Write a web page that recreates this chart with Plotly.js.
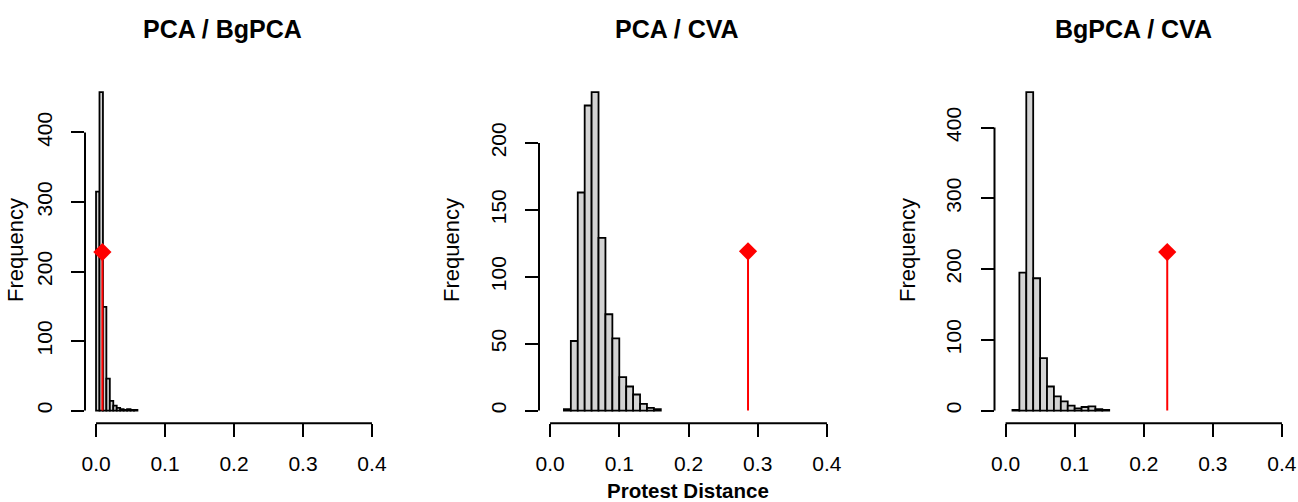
<!DOCTYPE html>
<html>
<head>
<meta charset="utf-8">
<script src="https://cdn.plot.ly/plotly-3.0.1.min.js"></script>
<style>
html,body{margin:0;padding:0;background:#fff;}
#chart{width:1298px;height:502px;}
</style>
</head>
<body>
<div id="chart"></div>
<script>
// ---- data ----
const panelTitles = ["PCA / BgPCA", "PCA / CVA", "BgPCA / CVA"];
const xAxisLabel = "Protest Distance";
const yAxisLabel = "Frequency";
const xTicks = [0, 0.1, 0.2, 0.3, 0.4];

const breaks1 = [0, 0.005, 0.01, 0.015, 0.02, 0.025, 0.03, 0.035, 0.04, 0.045, 0.05, 0.055, 0.06];
const counts1 = [315, 458, 149, 46, 14, 7, 4, 2, 1, 2, 1, 1];
const yTicks1 = [0, 100, 200, 300, 400];
const observed1 = 0.0092;
const observedHeight1 = 228;

const breaks2 = [0.02, 0.03, 0.04, 0.05, 0.06, 0.07, 0.08, 0.09, 0.10, 0.11, 0.12, 0.13, 0.14, 0.15, 0.16];
const counts2 = [1, 52, 163, 228, 238, 129, 72, 54, 25, 18, 12, 5, 2, 1];
const yTicks2 = [0, 50, 100, 150, 200];
const observed2 = 0.286;
const observedHeight2 = 119;

const breaks3 = [0.01, 0.02, 0.03, 0.04, 0.05, 0.06, 0.07, 0.08, 0.09, 0.10, 0.11, 0.12, 0.13, 0.14, 0.15];
const counts3 = [1, 195, 450, 187, 74, 34, 20, 13, 7, 3, 5, 6, 2, 1];
const yTicks3 = [0, 100, 200, 300, 400];
const observed3 = 0.234;
const observedHeight3 = 224;

// ---- build ----
const panels = [
  {breaks: breaks1, counts: counts1, yTicks: yTicks1, obs: observed1, obsH: observedHeight1},
  {breaks: breaks2, counts: counts2, yTicks: yTicks2, obs: observed2, obsH: observedHeight2},
  {breaks: breaks3, counts: counts3, yTicks: yTicks3, obs: observed3, obsH: observedHeight3}
];

const W = 1298, H = 502;
const FONT = "Liberation Sans, Arial, Helvetica, sans-serif";
const xDomPx = [[85, 383], [539, 838], [994.5, 1293]];
const yTopPx = 79.4, yBotPx = 423.3;
const titleX = [222.5, 677, 1133];
const ylabX = [15, 451, 907];

const traces = [];
const layout = {
  width: W, height: H,
  margin: {l: 0, r: 0, t: 0, b: 0},
  paper_bgcolor: "#ffffff",
  plot_bgcolor: "#ffffff",
  showlegend: false,
  font: {family: FONT, size: 20.5, color: "#000"},
  shapes: [],
  annotations: []
};

panels.forEach((p, i) => {
  const n = i === 0 ? "" : String(i + 1);
  const xa = "x" + n, ya = "y" + n;
  const centers = [], widths = [];
  for (let k = 0; k < p.counts.length; k++) {
    centers.push((p.breaks[k] + p.breaks[k + 1]) / 2);
    widths.push(p.breaks[k + 1] - p.breaks[k]);
  }
  traces.push({
    type: "bar", x: centers, y: p.counts, width: widths,
    xaxis: xa, yaxis: ya,
    marker: {color: "#d3d3d3", line: {color: "#000", width: 1.8}},
    hoverinfo: "x+y"
  });
  traces.push({
    type: "scatter", mode: "lines", x: [p.obs, p.obs], y: [0, p.obsH],
    xaxis: xa, yaxis: ya, line: {color: "#ff0000", width: 2}, hoverinfo: "skip"
  });
  traces.push({
    type: "scatter", mode: "markers", x: [p.obs], y: [p.obsH],
    xaxis: xa, yaxis: ya,
    marker: {symbol: "diamond", size: 14, color: "#ff0000", line: {width: 0}},
    cliponaxis: false
  });

  const ymax = Math.max(...p.counts);
  layout["xaxis" + n] = {
    domain: [xDomPx[i][0] / W, xDomPx[i][1] / W],
    anchor: ya,
    range: [-0.016, 0.416],
    tickvals: xTicks,
    ticktext: xTicks.map(v => v.toFixed(1)),
    ticks: "outside", ticklen: 13, tickwidth: 2, tickcolor: "#000",
    ticklabelstandoff: 8,
    showline: false, showgrid: false, zeroline: false,
    tickfont: {family: FONT, size: 21, color: "#000"},
    fixedrange: true
  };
  layout["yaxis" + n] = {
    domain: [1 - yBotPx / H, 1 - yTopPx / H],
    anchor: xa,
    range: [-0.04 * ymax, 1.04 * ymax],
    tickvals: p.yTicks,
    ticktext: p.yTicks.map(String),
    tickangle: -90,
    ticks: "outside", ticklen: 13, tickwidth: 2, tickcolor: "#000",
    ticklabelstandoff: 11,
    showline: false, showgrid: false, zeroline: false,
    tickfont: {family: FONT, size: 21, color: "#000"},
    fixedrange: true
  };
  // axis lines spanning first to last tick (R style)
  layout.shapes.push({
    type: "line", xref: xa, yref: ya + " domain",
    x0: xTicks[0], x1: xTicks[xTicks.length - 1], y0: 0, y1: 0,
    line: {color: "#000", width: 2}
  });
  layout.shapes.push({
    type: "line", xref: xa + " domain", yref: ya,
    x0: 0, x1: 0, y0: p.yTicks[0], y1: p.yTicks[p.yTicks.length - 1],
    line: {color: "#000", width: 2}
  });
  layout.annotations.push({
    xref: "paper", yref: "paper", x: titleX[i] / W, y: 1 - 29 / H,
    xanchor: "center", yanchor: "middle", showarrow: false,
    text: "<b>" + panelTitles[i] + "</b>",
    font: {family: FONT, size: 25, color: "#000"}
  });
  layout.annotations.push({
    xref: "paper", yref: "paper", x: ylabX[i] / W, y: 1 - 250 / H,
    xanchor: "center", yanchor: "middle", showarrow: false, textangle: -90,
    text: yAxisLabel,
    font: {family: FONT, size: 22, color: "#000"}
  });
});

layout.annotations.push({
  xref: "paper", yref: "paper", x: 688 / W, y: 1 - 490 / H,
  xanchor: "center", yanchor: "middle", showarrow: false,
  text: "<b>" + xAxisLabel + "</b>",
  font: {family: FONT, size: 20.5, color: "#000"}
});

Plotly.newPlot("chart", traces, layout, {displayModeBar: false, staticPlot: true});
</script>
</body>
</html>
